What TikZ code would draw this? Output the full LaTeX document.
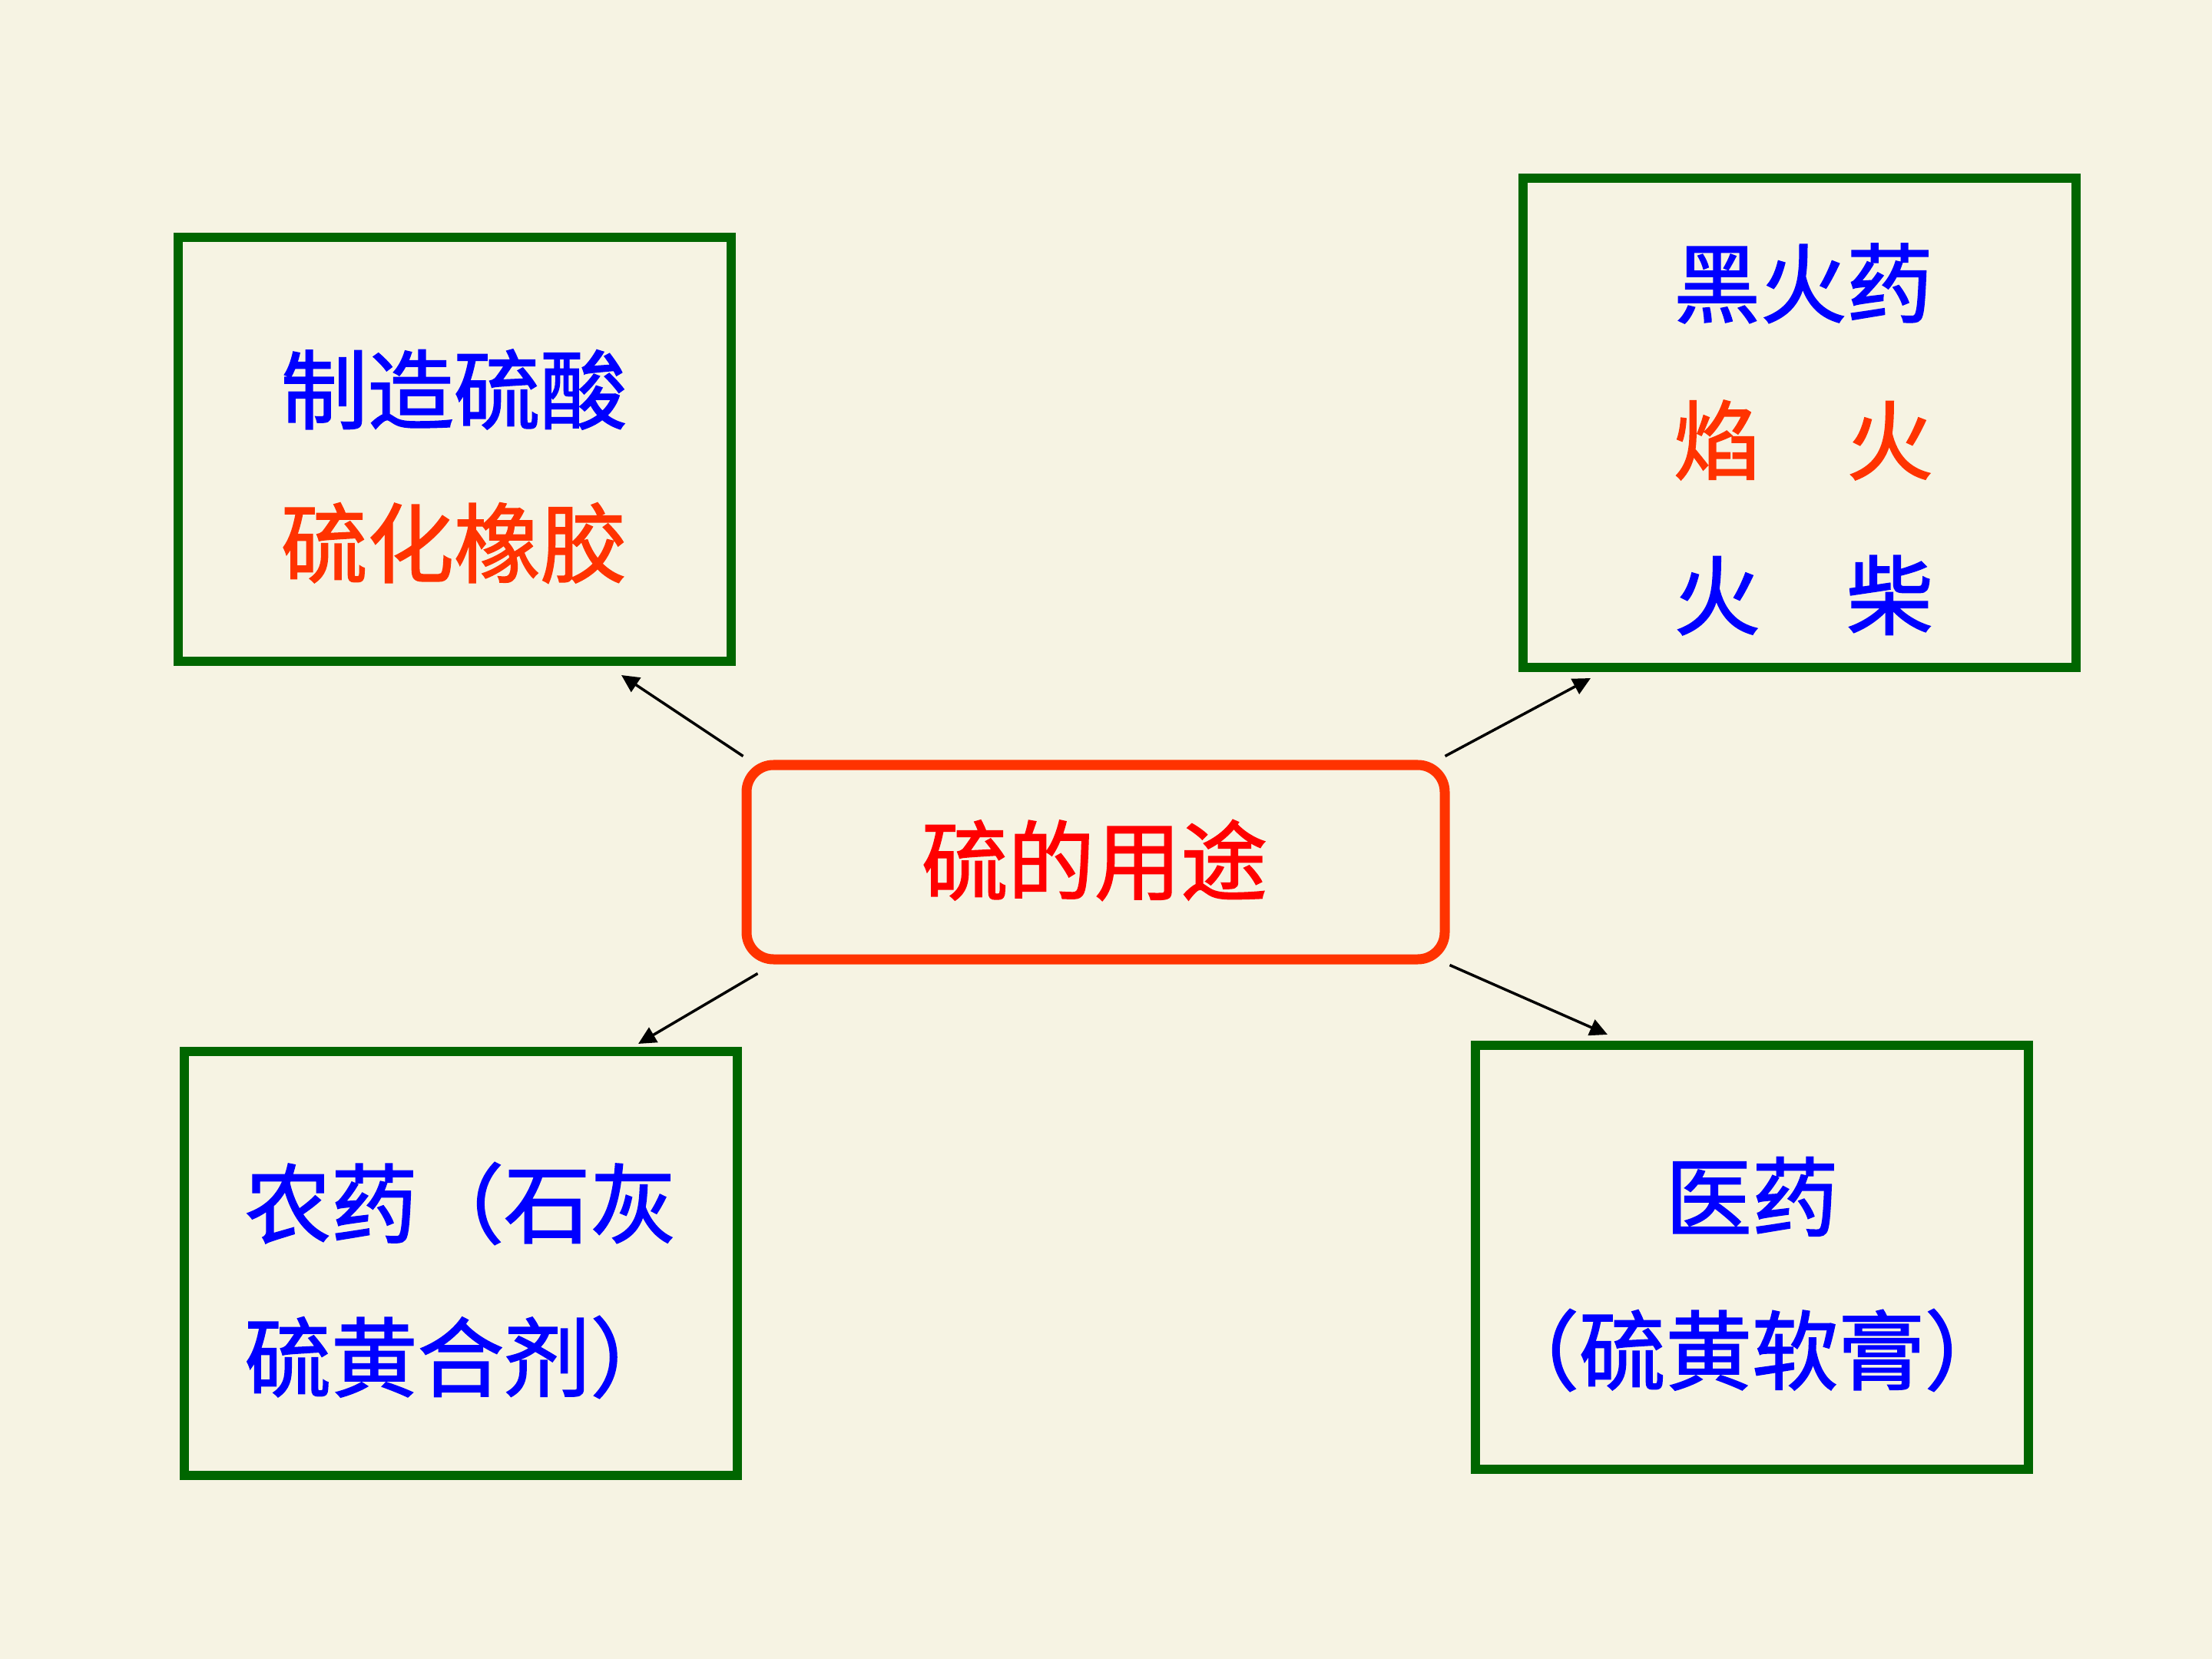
\documentclass[tikz,border=0pt]{standalone}
\usepackage{fontspec}
\usepackage{tikz}
\usetikzlibrary{arrows.meta}
\newfontfamily\cjk{Noto Sans CJK SC}[FakeBold=1.6]
\definecolor{paper}{HTML}{F6F3E3}
\definecolor{leaf}{HTML}{006600}
\definecolor{flame}{HTML}{FF3300}
\definecolor{ink}{HTML}{0000FF}
\definecolor{hot}{HTML}{FF0000}

\begin{document}
\begin{tikzpicture}[box/.style={draw=leaf,line width=0.12cm,minimum width=7.2cm,minimum height=5.52cm,inner sep=0},
		word/.style={inner sep=0,font=\cjk\fontsize{32}{38}\selectfont},
		arr/.style={-{Triangle[length=0.23cm,width=0.22cm]},line width=0.035cm}]
				\fill[paper] (0,0) rectangle (28.8,-21.6); % slide background
				\useasboundingbox (0,0) rectangle (28.8,-21.6);
				% the centre
				\node[draw=flame,line width=0.13cm,rounded corners=0.35cm,minimum width=9.09cm,minimum height=2.53cm] (use) at (14.265,-11.225) {};
				\node[word,text=hot] (use-t) at (14.25,-11.20) {硫的用途};
				% four uses, one box each
				\node[box] (acid) at (5.92,-5.85) {};
				\node[word,text=ink] (acid-t1) at (5.91,-5.07) {制造硫酸};
				\node[word,text=flame] (acid-t2) at (5.91,-7.07) {硫化橡胶};
				\node[box,minimum height=6.37cm] (fire) at (23.425,-5.505) {};
				\node[word,text=ink] (fire-t1) at (23.48,-3.69) {黑火药};
				\node[word,text=flame] (fire-t2) at (23.48,-5.73) {焰　火};
				\node[word,text=ink] (fire-t3) at (23.48,-7.75) {火　柴};
				\node[box] (farm) at (6.00,-16.45) {};
				\node[word,text=ink,anchor=west] (farm-t1) at (3.18,-15.67) {农药（石灰};
				\node[word,text=ink,anchor=west] (farm-t2) at (3.18,-17.67) {硫黄合剂）};
				\node[box] (med) at (22.81,-16.37) {};
				\node[word,text=ink] (med-t1) at (22.81,-15.58) {医药};
				\node[word,text=ink] (med-t2) at (22.81,-17.58) {（硫黄软膏）};
				% arrow tips
				\coordinate (t1) at (8.09,-8.79);
				\coordinate (t2) at (20.71,-8.83);
				\coordinate (t3) at (8.31,-13.59);
				\coordinate (t4) at (20.93,-13.47);
				\draw[arr] ([shift={(0.02,0.05)}]use.north west) -- (t1);
				\draw[arr] ([shift={(-0.06,0.05)}]use.north east) -- (t2);
				\draw[arr] ([shift={(0.21,-0.12)}]use.south west) -- (t3);
				\draw[arr] ([shift={(0.0,-0.01)}]use.south east) -- (t4);
\end{tikzpicture}
\end{document}
